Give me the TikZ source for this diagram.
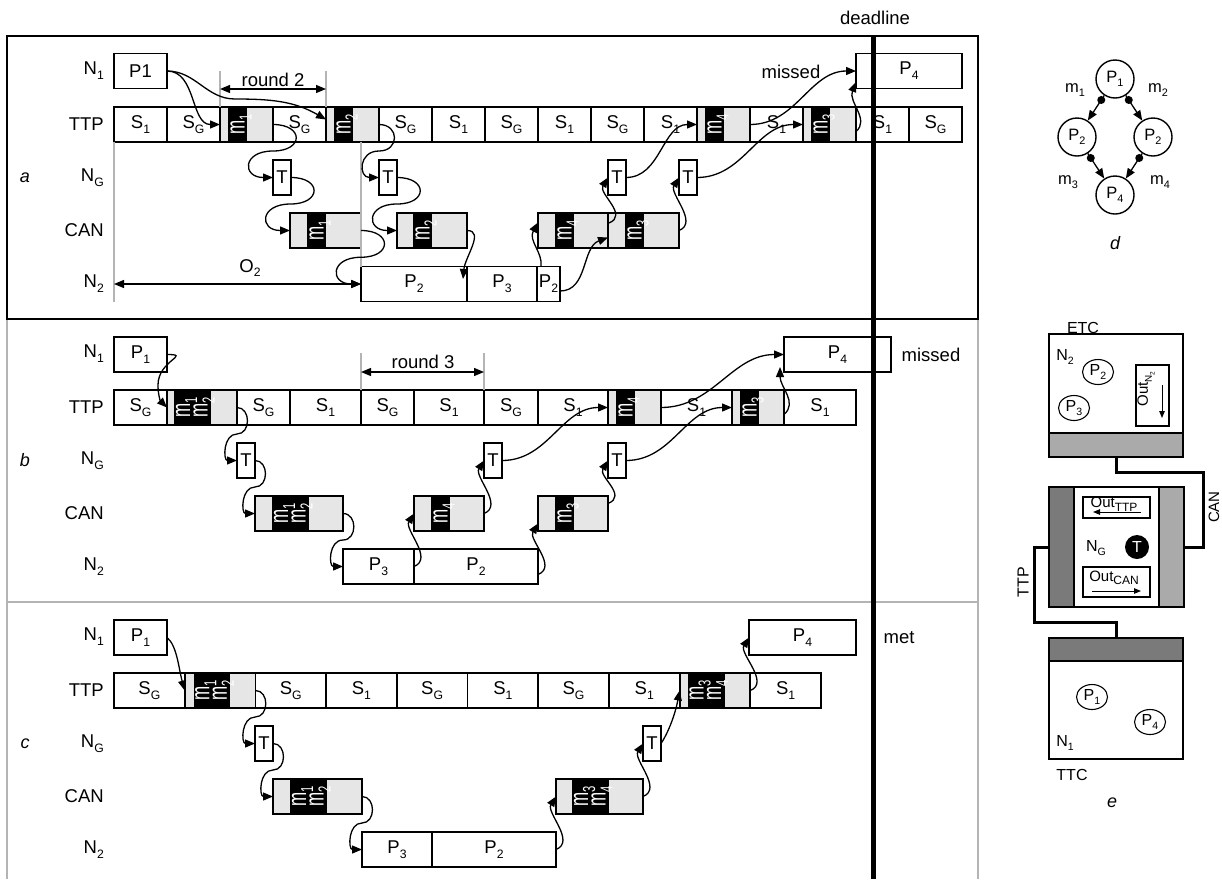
\documentclass[tikz,border=0pt]{standalone}
\usepackage{graphicx}
\usepackage{fontspec}
\setmainfont{Liberation Sans}
\usetikzlibrary{arrows.meta,calc,shapes.geometric}
\definecolor{msgGrey}{HTML}{E6E6E6}
\definecolor{ruleGrey}{HTML}{B4B4B4}
\definecolor{bandMid}{HTML}{AAAAAA}
\definecolor{bandDark}{HTML}{7A7A7A}
\newcommand{\mainsz}{\fontsize{18.5}{21}\selectfont}
\newcommand{\msz}{\fontsize{17}{17}\selectfont}
\newcommand{\dsz}{\fontsize{16.5}{18}\selectfont}
\newcommand{\esz}{\fontsize{16}{18}\selectfont}
\newcommand{\osz}{\fontsize{15}{16}\selectfont}
\newcommand{\subx}[1]{\raisebox{-.5ex}{\scalebox{.66}{#1}}}
\newcommand{\subl}[1]{\raisebox{-.45ex}{\scalebox{.8}{#1}}}
\newcommand{\mtxt}[1]{\scalebox{1}[1.55]{m\subx{#1}}}
\tikzset{
  >={Triangle[length=10pt,width=8pt]},
  box/.style={draw, line width=1.8pt, minimum height=35pt, inner sep=0pt, outer sep=0pt, anchor=west},
  tbox/.style={box, minimum width=18pt},
  rowlab/.style={anchor=east, inner sep=0pt},
  plab/.style={font=\fontsize{18}{20}\selectfont\itshape, inner sep=0pt},
  mlab/.style={rotate=90, text=white, inner sep=0pt, text depth=0pt, font=\msz},
  txt/.style={inner sep=0pt},
  arr/.style={->, line width=1.3pt},
  sarr/.style={-{Triangle[length=7pt,width=5.5pt]}, line width=1pt},
  guide/.style={draw=ruleGrey, line width=1.3pt},
  proc/.style={circle, draw, line width=1.4pt, minimum size=38pt, inner sep=0pt, font=\dsz},
  msgdot/.style={circle, fill, minimum size=8pt, inner sep=0pt},
  eproc/.style={ellipse, draw, line width=1.1pt, minimum width=31pt, minimum height=25pt, inner sep=0pt, font=\esz},
  ebox/.style={draw, line width=1.4pt, inner sep=0pt, outer sep=0pt, anchor=north west},
  outbox/.style={draw, line width=1.1pt, inner sep=0pt, outer sep=0pt, anchor=north west},
  wire/.style={line width=3pt},
}
% grey slot with black message band
\newcommand{\bandfill}[3]{%
  \fill[msgGrey] (#1.south west) rectangle (#1.north east);
  \fill ($(#1.south west)+(#2,0)$) rectangle ($(#1.north west)+(#2+#3,0)$);
  \draw[line width=1.8pt] (#1.south west) rectangle (#1.north east);}
\newcommand{\wig}[3][3]{\draw[arr] (#2) to[out=0,in=0,looseness=#1] ($(#2)!.5!(#3)$) to[out=180,in=180,looseness=#1] (#3);}
\newcommand{\wigup}[2]{\draw[arr] (#1) .. controls +(20,8) and +(-10,-16) .. (#2);}
\begin{document}
\begin{tikzpicture}[x=1pt,y=1pt,font=\mainsz]
\useasboundingbox (0,0) rectangle (1222,-879);
% frames
\draw[guide] (7,-319) -- (7,-879) (978,-319) -- (978,-879) (7,-602) -- (978,-602);
\draw[line width=2pt] (7,-36) rectangle (978,-319);
% row labels
\foreach \p/\dy in {a/0,b/283,c/566}{
  \foreach \lab/\y [count=\i] in {N\subx1/71,TTP/124.5,N\subx G/177.5,CAN/230.5,N\subx2/284}
    \node[rowlab] (row\p\i) at (104,{-\y-\dy}) {\lab};
  \node[plab] (lab\p) at (25,{-177.5-\dy}) {\p};
}

% ---- a
\node[box,minimum width=53] (p1a) at (114,-71) {P1};
\foreach \lab [count=\i from 0] in {S\subx1,S\subx G,{},S\subx G,{},S\subx G,S\subx1,S\subx G,S\subx1,S\subx G,S\subx1,{},S\subx1,{},S\subx1,S\subx G}
  \node[box,minimum width=53] (a\i) at ({114+53*\i},-124.5) {\lab};
\foreach \n in {2,4,11,13} {\bandfill{a\n}{8}{19}}
\node[mlab] (ma1) at ($(a2.west)+(17.5,0)$) {\mtxt1};
\node[mlab] (ma2) at ($(a4.west)+(17.5,0)$) {\mtxt2};
\node[mlab] (ma4) at ($(a11.west)+(17.5,0)$) {\mtxt4};
\node[mlab] (ma3) at ($(a13.west)+(17.5,0)$) {\mtxt3};
\foreach \x [count=\i] in {273,379,608,679} \node[tbox] (ta\i) at (\x,-177.5) {T};
\node[box,minimum width=71] (ca1) at (290,-230.5) {};
\node[box,minimum width=70] (ca2) at (397,-230.5) {};
\node[box,minimum width=70] (ca4) at (538,-230.5) {};
\node[box,minimum width=71] (ca3) at (608,-230.5) {};
\bandfill{ca1}{17}{19} \bandfill{ca2}{16}{19} \bandfill{ca4}{17}{19} \bandfill{ca3}{17}{19}
\node[mlab] (mca1) at ($(ca1.west)+(26.5,0)$) {\mtxt1};
\node[mlab] (mca2) at ($(ca2.west)+(25.5,0)$) {\mtxt2};
\node[mlab] (mca4) at ($(ca4.west)+(26.5,0)$) {\mtxt4};
\node[mlab] (mca3) at ($(ca3.west)+(26.5,0)$) {\mtxt3};
\node[box,minimum width=106] (na2) at (361,-284) {P\subx2};
\node[box,minimum width=70] (na3) at (467,-284) {P\subx3};
\node[box,minimum width=23] (na2b) at (537,-284) {P\subx2};
\node[box,minimum width=106] (p4a) at (856,-71) {P\subx4};
\node[txt] (missa) at (791,-72) {missed};
% round 2 and O2
\draw[guide] (a2.north west) -- ++(0,36);
\draw[guide] (a4.north west) -- ++(0,36);
\coordinate (r2l) at ($(a2.north west)+(0,18)$);
\coordinate (r2r) at ($(a4.north west)+(0,18)$);
\draw[arr,<->] (r2l) -- (r2r);
\node[txt] (r2) at (273,-80) {round 2};
\draw[guide] (a0.south west) -- (114,-302);
\draw[guide] (na2.north west) -- (361,-142);
\coordinate (o2l) at (114,-284);
\draw[arr,<->] (o2l) -- (na2.west);
\node[txt] (o2) at (250,-268) {O\subx2};
% messages a
\draw[arr] (p1a.east) to[out=0,in=180] (a2.west);
\draw[arr] (p1a.east) to[out=0,in=180] (235,-99) to[out=0,in=150] ($(a4.west)+(0,5)$);
\wig{a2.east}{ta1.west}
\wig{ta1.east}{ca1.west}
\wig[2]{a4.east}{ta2.west}
\wig{ta2.east}{ca2.west}
\wig{ca1.east}{na2.west}
\draw[arr] (ca2.east) .. controls +(18,0) and +(2,22) .. ($(na2.east)+(-4,5)$);
\draw[arr] ($(na2b.north west)+(4,0)$) .. controls +(2,14) and +(-10,-18) .. ($(ca4.west)+(0,8)$);
\draw[arr] ($(na2b.east)+(0,-7)$) to[out=0,in=200] ($(ca3.west)+(0,-7)$);
\wigup{$(ca4.north east)+(1,-10)$}{ta3.west}
\wigup{ca3.east}{ta4.west}
\draw[arr] (ta3.east) to[out=0,in=180] (a11.west);
\draw[arr] (ta4.east) to[out=0,in=180] (a13.west);
\draw[arr] (a11.east) to[out=0,in=180] (p4a.west);
\draw[arr] ($(a13.east)+(0,-7)$) .. controls +(14,12) and +(-8,-20) .. ($(p4a.west)+(0,-11)$);

% ---- b
\node[box,minimum width=53] (p1b) at (114,-354.5) {P\subx1};
\foreach \x/\w/\lab [count=\i from 0] in {114/53/S\subx G,167/70/{},237/53/S\subx G,290/71/S\subx1,361/53/S\subx G,414/70/S\subx1,484/54/S\subx G,538/70/S\subx1,608/53/{},661/71/S\subx1,732/52/{},784/72/S\subx1}
  \node[box,minimum width=\w] (b\i) at (\x,-407.5) {\lab};
\bandfill{b1}{7}{37} \bandfill{b8}{8}{19} \bandfill{b10}{8}{19}
\node[mlab] (mb1) at ($(b1.west)+(16,0)$) {\mtxt1};
\node[mlab] (mb2) at ($(b1.west)+(33.5,0)$) {\mtxt2};
\node[mlab] (mb4) at ($(b8.west)+(17.5,0)$) {\mtxt4};
\node[mlab] (mb3) at ($(b10.west)+(17.5,0)$) {\mtxt3};
\foreach \x [count=\i] in {237,484,608} \node[tbox] (tb\i) at (\x,-460.5) {T};
\node[box,minimum width=88] (cb12) at (255,-513.5) {};
\node[box,minimum width=70] (cb4) at (414,-513.5) {};
\node[box,minimum width=70] (cb3) at (538,-513.5) {};
\bandfill{cb12}{17}{37} \bandfill{cb4}{17}{19} \bandfill{cb3}{17}{19}
\node[mlab] (mcb1) at ($(cb12.west)+(26,0)$) {\mtxt1};
\node[mlab] (mcb2) at ($(cb12.west)+(43.5,0)$) {\mtxt2};
\node[mlab] (mcb4) at ($(cb4.west)+(26.5,0)$) {\mtxt4};
\node[mlab] (mcb3) at ($(cb3.west)+(26.5,0)$) {\mtxt3};
\node[box,minimum width=71] (nb3) at (343,-566.5) {P\subx3};
\node[box,minimum width=124] (nb2) at (414,-566.5) {P\subx2};
\node[box,minimum width=107] (p4b) at (784,-354.5) {P\subx4};
\node[txt] (missb) at (931,-355) {missed};
% round 3
\draw[guide] (b4.north west) -- ++(0,37);
\draw[guide] (b6.north west) -- ++(0,37);
\coordinate (r3l) at ($(b4.north west)+(0,18)$);
\coordinate (r3r) at ($(b6.north west)+(0,18)$);
\draw[arr,<->] (r3l) -- (r3r);
\node[txt] (r3) at (423,-362) {round 3};
% messages b
\draw[arr] (p1b.east) to[out=0,in=90,looseness=2] (158,-385) to[out=-90,in=135] (b1.west);
\wig[1.35]{b1.east}{tb1.west}
\wig[1.35]{tb1.east}{cb12.west}
\wig[1.4]{cb12.east}{nb3.west}
\wigup{nb2.west}{cb4.west}
\wigup{cb4.east}{tb2.west}
\wigup{$(nb2.east)+(0,-8)$}{$(cb3.west)+(0,-10)$}
\wigup{$(cb3.east)+(0,10)$}{tb3.west}
\draw[arr] (tb2.east) to[out=0,in=180] (b8.west);
\draw[arr] (tb3.east) to[out=0,in=180] (b10.west);
\draw[arr] (b8.east) to[out=0,in=180] (p4b.west);
\draw[arr] ($(b10.east)+(0,-7)$) .. controls +(14,12) and +(0,-20) .. ($(p4b.south west)+(-4,5)$);

% ---- c
\node[box,minimum width=53] (p1c) at (114,-637.5) {P\subx1};
\foreach \lab [count=\i from 0] in {S\subx G,{},S\subx G,S\subx1,S\subx G,S\subx1,S\subx G,S\subx1,{},S\subx1}
  \node[box,minimum width=70.7] (c\i) at ({114+70.7*\i},-690.5) {\lab};
\bandfill{c1}{9}{36} \bandfill{c8}{8}{37}
\node[mlab] (mc1) at ($(c1.west)+(17.5,0)$) {\mtxt1};
\node[mlab] (mc2) at ($(c1.west)+(35,0)$) {\mtxt2};
\node[mlab] (mc3) at ($(c8.west)+(17,0)$) {\mtxt3};
\node[mlab] (mc4) at ($(c8.west)+(34.5,0)$) {\mtxt4};
\node[tbox] (tc1) at (255,-743.5) {T};
\node[tbox] (tc2) at (643,-743.5) {T};
\node[box,minimum width=89] (cc12) at (273,-796.5) {};
\node[box,minimum width=87] (cc34) at (556,-796.5) {};
\bandfill{cc12}{17}{37} \bandfill{cc34}{16}{37}
\node[mlab] (mcc1) at ($(cc12.west)+(26,0)$) {\mtxt1};
\node[mlab] (mcc2) at ($(cc12.west)+(43.5,0)$) {\mtxt2};
\node[mlab] (mcc3) at ($(cc34.west)+(25,0)$) {\mtxt3};
\node[mlab] (mcc4) at ($(cc34.west)+(42.5,0)$) {\mtxt4};
\node[box,minimum width=70] (nc3) at (362,-849.5) {P\subx3};
\node[box,minimum width=124] (nc2) at (432,-849.5) {P\subx2};
\node[box,minimum width=107] (p4c) at (749,-637.5) {P\subx4};
\node[txt] (metc) at (899,-638) {met};
% messages c
\draw[arr] (p1c.east) .. controls +(10,-8) and +(-6,22) .. (c1.west);
\wig[1.35]{c1.east}{tc1.west}
\wig[1.35]{tc1.east}{cc12.west}
\wig[1.35]{cc12.east}{nc3.west}
\wigup{nc2.east}{cc34.west}
\wigup{cc34.east}{tc2.west}
\draw[arr] (tc2.east) .. controls +(8,12) and +(-4,-22) .. (c8.west);
\wigup{c8.east}{p4c.west}

% deadline
\node[txt] (dl) at (875,-18) {deadline};
\coordinate (dltop) at (873,-36);
\coordinate (dlbot) at (873,-879);
\draw[line width=5pt] (dltop) -- (dlbot);

% ---- d
\node[proc] (d1) at (1115,-79) {P\subx1};
\node[proc] (d2) at (1077,-137) {P\subx2};
\node[proc] (d3) at (1153,-137) {P\subx2};
\node[proc] (d4) at (1115,-195) {P\subx4};
\draw[arr] (d1) -- (d2) node[msgdot,pos=.18] (dm1) {};
\draw[arr] (d1) -- (d3) node[msgdot,pos=.18] (dm2) {};
\draw[arr] (d2) -- (d4) node[msgdot,pos=.18] (dm3) {};
\draw[arr] (d3) -- (d4) node[msgdot,pos=.18] (dm4) {};
\node[txt,font=\dsz] (lm1) at (1075,-90) {m\subx1};
\node[txt,font=\dsz] (lm2) at (1158,-90) {m\subx2};
\node[txt,font=\dsz] (lm3) at (1068,-182) {m\subx3};
\node[txt,font=\dsz] (lm4) at (1160,-182) {m\subx4};
\node[plab] (labd) at (1115,-243) {d};

% ---- e
\node[txt,font=\esz] (etcl) at (1083,-328) {ETC};
\node[ebox,minimum width=134,minimum height=123] (etc) at (1049,-334) {};
\draw[line width=1.4pt,fill=bandMid] (etc.south west) rectangle ($(etc.south east)+(0,24)$);
\node[txt,font=\esz] (en2) at (1065,-357) {N\subx2};
\node[eproc] (ep2) at (1098,-372) {P\subx2};
\node[eproc] (ep3) at (1074,-408) {P\subx3};
\node[outbox,minimum width=33,minimum height=61] (outn) at (1136,-365) {};
\node[txt,font=\osz,rotate=90] (outnl) at (1146,-389) {Out\subx{N\subx2}};
\coordinate (on1) at (1162,-385);
\coordinate (on2) at (1162,-418);
\draw[sarr] (on1) -- (on2);
\node[ebox,minimum width=135,minimum height=120] (gw) at (1049,-487) {};
\draw[line width=1.4pt,fill=bandDark] (gw.south west) rectangle ($(gw.north west)+(25,0)$);
\draw[line width=1.4pt,fill=bandMid] (gw.south east) rectangle ($(gw.north east)+(-25,0)$);
\node[outbox,minimum width=67,minimum height=21] (otp) at (1083,-497) {};
\node[txt,font=\osz] (otpl) at (1114,-504) {Out\subl{TTP}};
\coordinate (ot1) at (1141,-512);
\coordinate (ot2) at (1093,-512);
\draw[sarr] (ot1) -- (ot2);
\node[txt,font=\esz] (eng) at (1096,-548) {N\subx G};
\node[circle,fill,minimum size=24,inner sep=0pt,text=white,font=\esz] (gt) at (1137,-547) {T};
\node[outbox,minimum width=67,minimum height=30] (ocan) at (1083,-567) {};
\node[txt,font=\osz] (ocanl) at (1114,-578) {Out\subl{CAN}};
\coordinate (oc1) at (1092,-591);
\coordinate (oc2) at (1141,-591);
\draw[sarr] (oc1) -- (oc2);
\node[ebox,minimum width=134,minimum height=121] (ttc) at (1049,-638) {};
\draw[line width=1.4pt,fill=bandDark] (ttc.north west) rectangle ($(ttc.north east)+(0,-23)$);
\node[eproc] (ep1) at (1092,-697) {P\subx1};
\node[eproc] (ep4) at (1150,-722) {P\subx4};
\node[txt,font=\esz] (en1) at (1065,-743) {N\subx1};
\node[txt,font=\esz] (ttcl) at (1072,-775) {TTC};
\node[plab] (labe) at (1112,-803) {e};
% buses
\draw[wire] (etc.south) -- ++(0,-15) -| (1203,-547) -- (gw.east);
\node[txt,font=\osz,rotate=90] (canl) at (1214,-507) {CAN};
\draw[wire] (gw.west) -- ++(-15,0) |- (1116,-622) -- (ttc.north);
\node[txt,font=\esz,rotate=90] (ttpl) at (1023,-582) {TTP};
\end{tikzpicture}
\end{document}
